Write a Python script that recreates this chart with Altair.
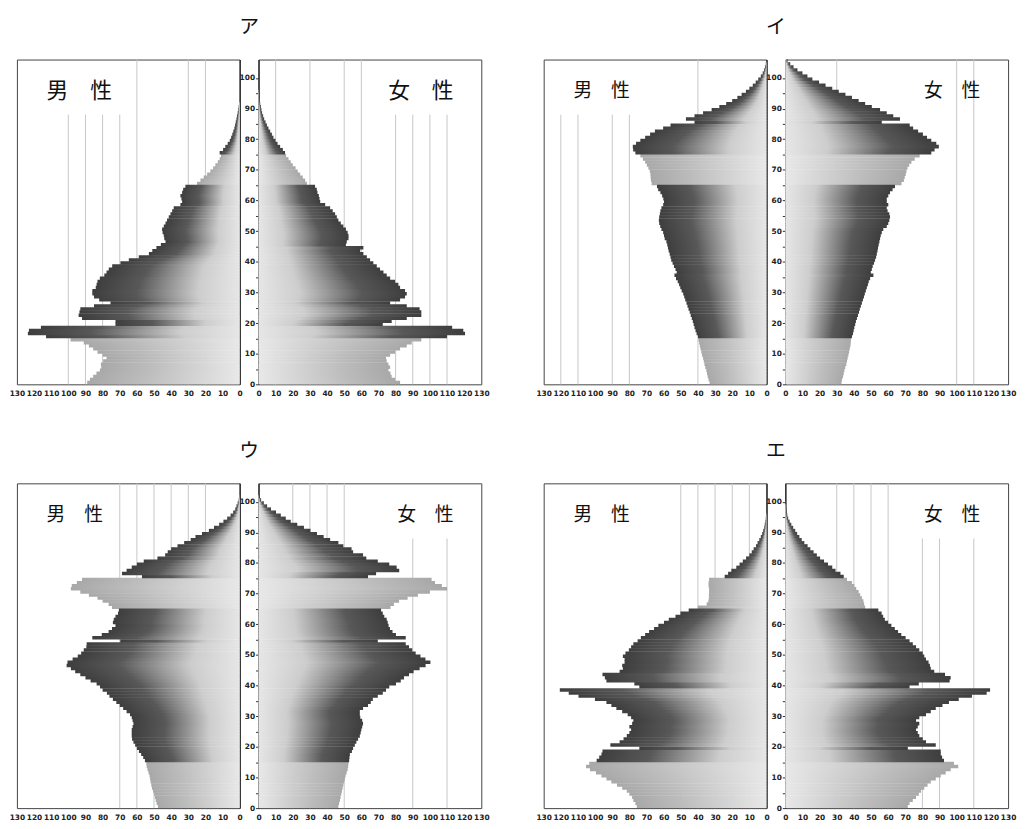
import altair as alt
import pandas as pd

TITLES = ["ア", "イ", "ウ", "エ"]
MALE_LABEL = "男　性"
FEMALE_LABEL = "女　性"

# population by single year of age (index = age)
A_MALE = [89, 87.4, 85.5, 83.6, 81.6, 80.8, 81, 79.7, 77.7, 80,
          83, 85.5, 88, 91, 98.7, 113, 123.6, 123, 116, 72.5,
          72.5, 92, 94, 93.5, 93, 85, 75.4, 82, 85, 86,
          86, 84, 83.5, 83, 81.6, 79, 77.7, 76.4, 74.4, 69.6,
          64.7, 58.9, 53, 51, 48.6, 46, 43.3, 44, 44.3, 45,
          45.3, 44.3, 43.3, 42.4, 41.4, 40.4, 39.4, 38.5, 34.6, 33.6,
          34, 34.6, 33.6, 33, 31.7, 24.9, 22.9, 21, 19, 17.1,
          15.5, 14.2, 12.8, 11.7, 10.9, 11.7, 9.7, 8.4, 7, 5.8,
          5, 4.3, 3.7, 3.1, 2.7, 2.3, 1.9, 1.6, 1.2, 0.8,
          0.6, 0.4, 0.2]
A_FEMALE = [82.6, 79.7, 77.7, 77, 75.8, 76.8, 75.8, 74.8, 74.4, 76.8,
            79.7, 82.6, 86.5, 89.4, 95, 110, 120.5, 119.5, 113, 72.5,
            77.7, 86.5, 95, 95, 94, 86.5, 76.8, 82.6, 85.5, 86.5,
            85.5, 82.6, 81.6, 79.7, 76.8, 74.8, 72.9, 70.9, 69, 67,
            65.1, 63.2, 61.2, 59.3, 61.2, 51, 51.5, 52.5, 52.5, 52,
            51, 49.5, 48, 46.6, 45.7, 44.7, 43.3, 41.8, 38.9, 36,
            35.6, 35.2, 34.4, 34, 33, 28.2, 27.2, 25.8, 24.3, 22.9,
            21.6, 20, 18.8, 17.5, 16.1, 15.5, 14.2, 12.6, 11.1, 9.9,
            8.7, 7.8, 6.8, 5.8, 4.9, 4.1, 3.3, 2.7, 2.1, 1.7,
            1.4, 1, 0.8, 0.6, 0.4, 0.2]

I_MALE = [33.2, 33.8, 34.3, 34.7, 35.1, 35.7, 36.2, 36.6, 37, 37.6,
          38, 38.5, 38.9, 39.3, 39.7, 40, 40.8, 41.4, 42, 42.5,
          43, 43.6, 44.2, 44.8, 45.5, 46.1, 46.7, 47.4, 48, 48.6,
          49.5, 50.3, 51, 51.8, 52.8, 53.7, 52.4, 53.1, 54, 54.8,
          55.6, 56, 56.5, 57.1, 57.5, 57.9, 58.4, 59.4, 59.8, 60.3,
          61.3, 62, 62.6, 62.8, 62.6, 62.2, 61.9, 61.3, 60.3, 59.8,
          60.2, 60.9, 61.9, 63.2, 63.9, 67, 67.4, 67.6, 67.7, 68.1,
          68.9, 69.8, 70.8, 72.1, 73.6, 76.5, 77.8, 78, 76.1, 73.6,
          70.8, 67.9, 65.1, 60.3, 56, 42, 47, 42, 37, 32,
          27.5, 23.5, 20, 17, 14.5, 12, 10, 8, 6.3, 4.8,
          3.3, 2.2, 1.4, 0.8, 0.4]
I_FEMALE = [32.8, 33.1, 33.7, 34.1, 34.5, 35, 35.6, 36, 36.4, 36.8,
            37.2, 37.6, 38, 38.2, 38.3, 38.9, 39.5, 39.9, 40.3, 40.8,
            41.2, 41.8, 42.4, 43, 43.5, 44.1, 44.7, 45.3, 45.9, 46.4,
            47, 47.6, 48.2, 48.7, 49.5, 51.4, 49.9, 50.5, 51, 51.8,
            52.4, 53, 53.4, 53.8, 54.1, 54.5, 54.9, 55.3, 55.7, 56.3,
            57.2, 59.2, 60.1, 60.7, 61.1, 60.7, 59.7, 59.2, 60.1, 59.2,
            59.2, 60.1, 61.1, 62.6, 64, 67.8, 69.2, 69.7, 70.3, 70.7,
            71.3, 72.3, 73.6, 75.5, 78.4, 85.2, 87.1, 89.6, 88.1, 85.2,
            82.7, 80.3, 77.5, 74.6, 72.6, 56.3, 66.9, 63, 59.2, 55.3,
            50.5, 46.6, 42.8, 38.9, 35.1, 31.2, 27.4, 23.5, 19.7, 15.8,
            12.9, 10, 7.1, 4.8, 2.9, 1.3]

U_MALE = [47.7, 48.5, 49, 49.5, 50, 50.6, 51.2, 51.6, 52, 52.3,
          52.6, 53.2, 53.8, 54.3, 54.5, 55.3, 56.3, 57.5, 58.8, 60,
          61, 62, 62.8, 63, 63, 63, 62.5, 62, 62.5, 63,
          64, 66, 68, 70, 72, 74, 76, 77.5, 80, 81.5,
          83.5, 87, 90, 93, 96, 98.5, 101, 100.5, 97.5, 94.5,
          92.5, 91, 89.5, 89.3, 69.7, 86, 80.5, 76.5, 74.5, 72.5,
          74, 73.5, 72.5, 71, 70.5, 74.5, 76.5, 80, 83, 88,
          93, 98.5, 98, 95, 92, 57, 68.7, 66, 63, 60,
          56, 48, 43.5, 42, 40, 36.3, 32.4, 28.6, 25.8, 22,
          18, 15, 12, 9.5, 7.3, 5.3, 3.8, 2.6, 1.9, 1.2,
          0.6, 0.3]
U_FEMALE = [46.6, 47, 47.5, 47.9, 48.3, 48.7, 49.1, 49.5, 50, 50.4,
            50.8, 51.4, 52, 52.3, 52.5, 52.9, 53.1, 53.3, 54.5, 55.2,
            56.2, 57.1, 58.1, 59.1, 59.6, 60, 60.5, 61, 60.5, 59.4,
            59.1, 59.1, 61, 63.9, 65.5, 66.7, 69.6, 72.5, 74.4, 76.3,
            80.2, 83, 84.9, 87.8, 90.5, 94, 97.5, 100.3, 97.4, 94.5,
            91.7, 89.7, 87.8, 85.9, 69.6, 85.9, 80.2, 78.2, 76.7, 75.9,
            75.4, 74.8, 73.4, 72.5, 71.5, 77, 79, 82, 87, 93,
            100, 110, 107, 103, 101, 63.9, 68.6, 82.1, 80.6, 76.3,
            69.6, 62.9, 61, 55.2, 54.3, 49.5, 46.6, 41.8, 38, 34.1,
            30.3, 26.5, 22.6, 18.8, 15.9, 13, 10.2, 7.3, 5, 3.1,
            1.5, 0.6]

E_MALE = [75.7, 76.5, 77.7, 78.4, 80, 81.5, 84.2, 87.2, 90.5, 93.4,
          96.3, 99.5, 103, 105.3, 103.4, 99.1, 97.6, 96.3, 95.7, 74.2,
          91.1, 85.7, 83.4, 81.5, 80, 79, 80, 78.4, 77.7, 79,
          81, 84.2, 87.6, 90.5, 93.4, 100.1, 109.7, 115.4, 120.6, 74.2,
          77.1, 93.4, 94.3, 95.7, 85.7, 83.8, 84.2, 82.8, 82.8, 83.8,
          82.3, 80.3, 79, 77.7, 75.2, 73.3, 70.8, 68.5, 65.6, 63.1,
          59.8, 57, 53.1, 50.2, 45.4, 40.1, 34.9, 33.9, 33.6, 33.6,
          33.5, 33.5, 33.8, 33.8, 33.5, 24.4, 22.4, 20.5, 17.6, 15.7,
          13.8, 11.9, 10, 8.6, 7.5, 6.1, 5.2, 4.2, 3.3, 2.5,
          1.9, 1.3, 1, 0.6, 0.4, 0.2]
E_FEMALE = [71.5, 72.5, 74.4, 76.3, 77.9, 79.2, 81.1, 83, 84.9, 87.8,
            90.7, 93.6, 96.5, 100.9, 98.4, 92.6, 91.5, 90.7, 90.7, 71.5,
            87.8, 82.1, 80.2, 78.2, 77.3, 76.3, 77.3, 78.2, 76.3, 78.2,
            82.1, 84.9, 87.8, 91.7, 95.5, 101.2, 108.9, 117.5, 119.5, 72.5,
            77.9, 95.9, 96.5, 93.2, 86.9, 84.9, 84.4, 83.6, 82.1, 81.1,
            80.2, 78.2, 76.3, 74.4, 72.5, 70.2, 67.7, 65.8, 63.9, 61.9,
            60, 58.1, 57.1, 56.2, 54.3, 46.6, 46, 45.6, 44.7, 43.7,
            42.8, 41.4, 40.3, 38.9, 36, 34.1, 32.2, 29.3, 27.4, 24.9,
            22.6, 20.3, 18.4, 16.5, 14.6, 13, 11.1, 9.6, 8.2, 6.9,
            5.8, 4.6, 3.5, 2.5, 1.7, 1.2, 0.8, 0.6, 0.4, 0.2]

# gridline values (full height / starting lower)
A_GRID_M = ([60, 30, 20], [100, 90, 80, 70])
A_GRID_F = ([10, 30, 50, 60], [80, 90, 100, 110])
I_GRID_M = ([40], [120, 110, 90, 80])
I_GRID_F = ([30, 100, 110], [])
U_GRID_M = ([70, 60, 50, 40, 30, 20], [])
U_GRID_F = ([20, 30, 40, 50], [90, 110])
E_GRID_M = ([50, 40, 30, 20, 10], [])
E_GRID_F = ([30, 40, 50, 60], [80, 90, 110])

X_TICKS = list(range(0, 131, 10))
AGE_TICKS = list(range(0, 101, 5))
AGE_MAX = 106
GRID_PART_TOP = 88
BAR_OVERLAP = 0.15  # slight overlap of adjacent age bars to avoid hairline gaps

W, H = 225, 328
JP = "Noto Sans CJK JP"
NUM = "DejaVu Sans"

DARK = [(0, "#3e3e3e"), (0.3, "#585858"), (0.72, "#cdcdcd"), (1, "#e6e6e6")]
LIGHT = [(0, "#a8a8a8"), (0.35, "#bcbcbc"), (1, "#e8e8e8")]


def grad(stops, reverse):
    return alt.LinearGradient(
        gradient="linear",
        stops=[alt.GradientStop(offset=o, color=c) for o, c in stops],
        x1=1 if reverse else 0, x2=0 if reverse else 1, y1=0, y2=0)


def side(values, is_male, grid, label, label_size):
    df = pd.DataFrame({"age": list(range(len(values))), "pop": values})
    x_scale = alt.Scale(domain=[0, 130], reverse=is_male, nice=False, zero=True)
    y_scale = alt.Scale(domain=[0, AGE_MAX], nice=False, zero=True)
    x_axis = alt.Axis(values=X_TICKS, title=None, grid=False, ticks=False,
                      domain=False, labelFlush=False, labelOverlap=False,
                      labelFontSize=7.5, labelFont=NUM, labelFontWeight="bold",
                      labelColor="#222", labelPadding=5)
    if is_male:
        y_axis = alt.Axis(orient="right", labels=False, ticks=False, title=None,
                          grid=False, domain=True, domainColor="#333",
                          domainWidth=1.5, values=AGE_TICKS)
    else:
        y_axis = alt.Axis(orient="left", values=AGE_TICKS, title=None, grid=False,
                          labelExpr="datum.value % 10 == 0 ? datum.label : ''",
                          ticks=True, tickSize=3, tickColor="#333", tickWidth=1,
                          domain=True, domainColor="#333", domainWidth=1.5,
                          labelFontSize=7.5, labelFont=NUM, labelFontWeight="bold",
                          labelColor="#222", labelPadding=1, labelFlush=False,
                          labelOverlap=False)

    full, part = grid
    gdf = pd.DataFrame({"v": full + part,
                        "top": [AGE_MAX] * len(full) + [GRID_PART_TOP] * len(part)})
    grid_layer = alt.Chart(gdf).transform_calculate(bottom="0").mark_rule(
        color="#c6c6c6", strokeWidth=1).encode(
        x=alt.X("v:Q", scale=x_scale, axis=x_axis),
        y=alt.Y("bottom:Q", scale=y_scale, axis=y_axis),
        y2="top:Q")

    base = alt.Chart(df).transform_calculate(
        age2=f"datum.age + 1 + {BAR_OVERLAP}", zero="0",
        band="(datum.age < 15 || (datum.age >= 65 && datum.age < 75)) ? 'light' : 'dark'")
    layers = [grid_layer]
    for band, stops in (("light", LIGHT), ("dark", DARK)):
        g = grad(stops, not is_male)
        layers.append(
            base.transform_filter(f"datum.band == '{band}'")
            .mark_rect(color=g)
            .encode(x=alt.X("pop:Q", scale=x_scale, axis=x_axis),
                    x2="zero:Q",
                    y=alt.Y("age:Q", scale=y_scale, axis=y_axis),
                    y2="age2:Q"))
    txt = alt.Chart(pd.DataFrame({"t": [label]})).mark_text(
        font=JP, fontSize=label_size, align="left" if is_male else "right",
        baseline="middle", color="#111").encode(
        text="t:N",
        x=alt.value(30 if is_male else W - 28),
        y=alt.value(32))
    layers.append(txt)
    return alt.layer(*layers).properties(width=W, height=H)


def panel(title, male, female, gm, gf, label_size):
    return alt.hconcat(
        side(male, True, gm, MALE_LABEL, label_size),
        side(female, False, gf, FEMALE_LABEL, label_size),
        spacing=19, bounds="flush",
    ).properties(title=alt.TitleParams(
        text=title, fontSize=20, font=JP, fontWeight="normal",
        anchor="middle", offset=22, color="#111"))


row1 = alt.hconcat(
    panel(TITLES[0], A_MALE, A_FEMALE, A_GRID_M, A_GRID_F, 22),
    panel(TITLES[1], I_MALE, I_FEMALE, I_GRID_M, I_GRID_F, 19),
    spacing=45)
row2 = alt.hconcat(
    panel(TITLES[2], U_MALE, U_FEMALE, U_GRID_M, U_GRID_F, 19),
    panel(TITLES[3], E_MALE, E_FEMALE, E_GRID_M, E_GRID_F, 19),
    spacing=45)

chart = alt.vconcat(row1, row2, spacing=44).properties(
    padding={"left": 0, "top": 5, "right": 0, "bottom": 0}
).configure(background="white").configure_view(stroke="#444", strokeWidth=1)

chart.save("out.html", embed_options={"renderer": "svg", "actions": False})
